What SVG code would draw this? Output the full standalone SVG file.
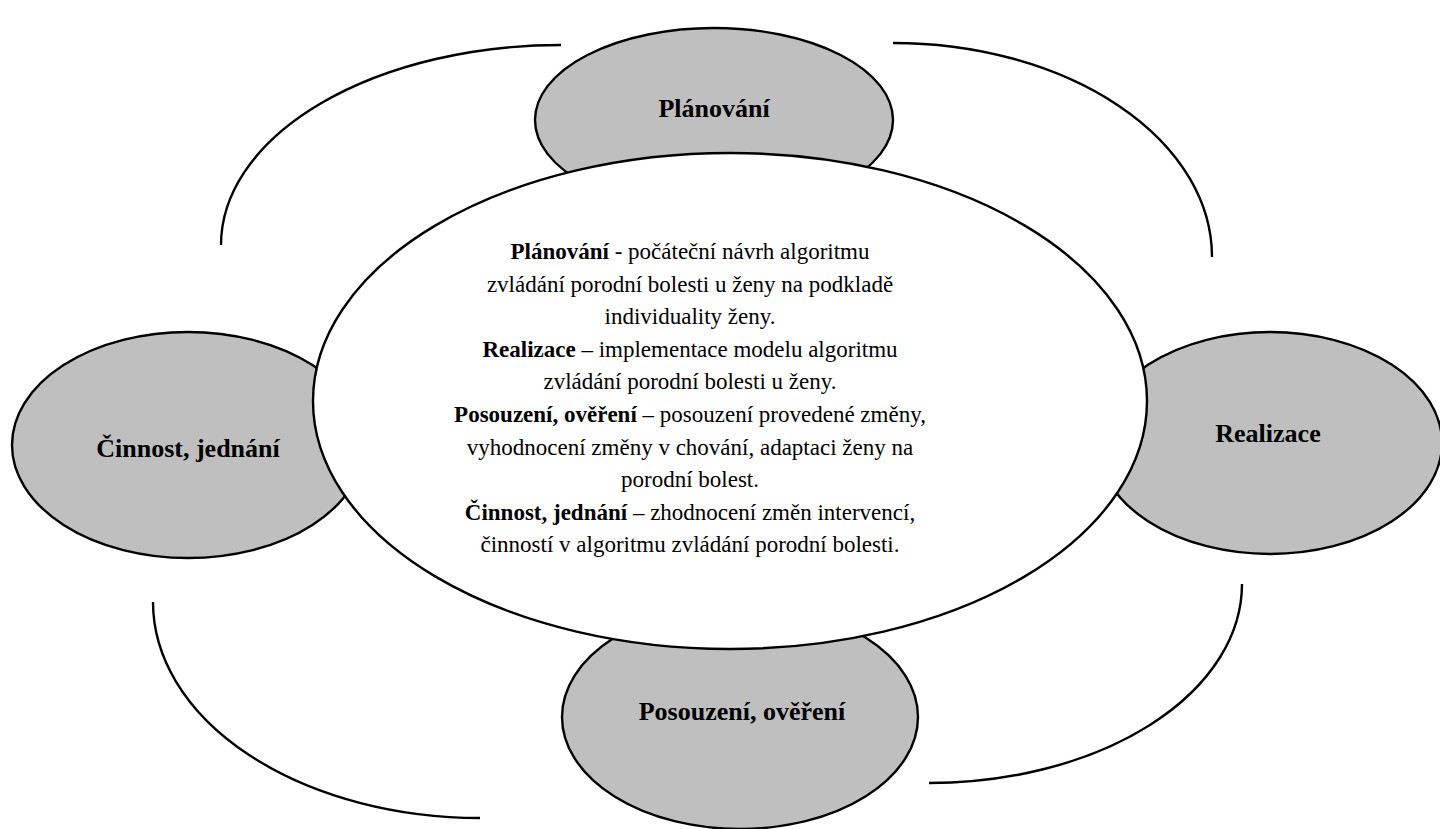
<svg xmlns="http://www.w3.org/2000/svg" width="1440" height="829" viewBox="0 0 1440 829">
<style>
.bg{fill:#ffffff}
.node{fill:#bfbfbf;stroke:#000;stroke-width:2.4}
.center{fill:#ffffff;stroke:#000;stroke-width:2.4}
.arc{fill:none;stroke:#000;stroke-width:2.4}
.lbl{font-family:"Liberation Serif","Times New Roman",serif;font-weight:bold;font-size:26px;fill:#000;text-anchor:middle}
.txt{font-family:"Liberation Serif","Times New Roman",serif;font-size:23px;fill:#000;text-anchor:middle}
.b{font-weight:bold}
</style>
<rect class="bg" x="0" y="0" width="1440" height="829"/>
<g id="connectors">
<path class="arc" d="M221,245 A340,200 0 0,1 561,45"/>
<path class="arc" d="M893,43 A319,214 0 0,1 1212,257"/>
<path class="arc" d="M153,602 A327,216 0 0,0 480,818"/>
<path class="arc" d="M1242,584 A313,199 0 0,1 929,783"/>
</g>
<g id="planovani">
<ellipse class="node" cx="714" cy="120" rx="179" ry="92"/>
<text class="lbl" x="714" y="117">Plánování</text>
</g>
<g id="cinnost">
<ellipse class="node" cx="188" cy="445" rx="176" ry="113"/>
<text class="lbl" x="188" y="457">Činnost, jednání</text>
</g>
<g id="realizace">
<ellipse class="node" cx="1270" cy="443" rx="172" ry="111"/>
<text class="lbl" x="1268" y="442">Realizace</text>
</g>
<g id="posouzeni">
<ellipse class="node" cx="740" cy="717" rx="178" ry="112"/>
<text class="lbl" x="742" y="720">Posouzení, ověření</text>
</g>
<g id="center">
<ellipse class="center" cx="730" cy="401" rx="417" ry="248"/>
<text class="txt" x="690" y="259"><tspan class="b">Plánování</tspan> - počáteční návrh algoritmu</text>
<text class="txt" x="690" y="291.6">zvládání porodní bolesti u ženy na podkladě</text>
<text class="txt" x="690" y="324.2">individuality ženy.</text>
<text class="txt" x="690" y="356.8"><tspan class="b">Realizace</tspan> – implementace modelu algoritmu</text>
<text class="txt" x="690" y="389.4">zvládání porodní bolesti u ženy.</text>
<text class="txt" x="690" y="422"><tspan class="b">Posouzení, ověření</tspan> – posouzení provedené změny,</text>
<text class="txt" x="690" y="454.6">vyhodnocení změny v chování, adaptaci ženy na</text>
<text class="txt" x="690" y="487.2">porodní bolest.</text>
<text class="txt" x="690" y="519.8"><tspan class="b">Činnost, jednání</tspan> – zhodnocení změn intervencí,</text>
<text class="txt" x="690" y="552.4">činností v algoritmu zvládání porodní bolesti.</text>
</g>
</svg>
